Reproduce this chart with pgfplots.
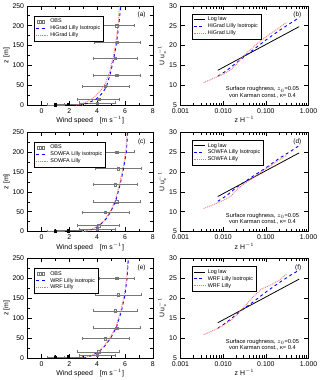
\documentclass[border=0pt]{standalone}
\usepackage{fontspec}
\setmainfont{Liberation Sans}
\usepackage{pgfplots}
\pgfplotsset{compat=1.18}
\usepgfplotslibrary{groupplots}
\definecolor{obsgray}{RGB}{120,120,120}
\definecolor{lillyred}{RGB}{250,110,110}
\tikzset{
  plabel/.style={font=\fontsize{6.5}{7}\selectfont, anchor=north east},
  rough/.style={font=\fontsize{5.8}{6.4}\selectfont, align=center},
}
\pgfplotsset{
  every axis/.append style={
    /pgf/number format/assume math mode=true,
    tick label style={font=\fontsize{7}{8}\selectfont},
    label style={font=\fontsize{7}{8}\selectfont},
    tick align=inside, tick style={black, thin},
  },
  speedax/.style={
    width=127pt, height=101pt, scale only axis,
    xmin=-1, xmax=8, ymin=0, ymax=250,
    xtick={0,2,4,6,8}, ytick={0,50,100,150,200,250},
    minor x tick num=1, minor y tick num=1,
    ylabel={z [m]}, xlabel={Wind speed\quad [m s$^{-1}$]},
    ylabel style={yshift=-4pt}, xlabel style={yshift=4pt},
    legend style={at={(rel axis cs:0.055,0.9)}, anchor=north west,
      font=\fontsize{5.5}{6}\selectfont, draw=black, row sep=-2.5pt,
      inner sep=1pt, cells={anchor=west}},
    legend image post style={scale=0.7},
  },
  profax/.style={
    width=130pt, height=101pt, scale only axis,
    xmin=0.001, xmax=1, ymin=5, ymax=30,
    xtick={0.001,0.01,0.1,1}, xticklabels={0.001,0.010,0.100,1.000},
    ytick={5,10,15,20,25,30},
    ylabel={U u$_*^{-1}$}, xlabel={z H$^{-1}$},
    ylabel style={yshift=-4pt}, xlabel style={yshift=4pt},
    legend style={at={(rel axis cs:0.09,0.92)}, anchor=north west,
      font=\fontsize{5.5}{6}\selectfont, draw=black, row sep=-2.5pt,
      inner sep=1pt, cells={anchor=west}},
    legend image post style={scale=0.7},
  },
  obs/.style={only marks, mark=square, mark size=1.2pt, black,
    mark options={draw=obsgray},
    error bars/x dir=both, error bars/x explicit,
    error bars/error bar style={obsgray, thin},
    error bars/error mark options={rotate=90, mark size=1.5pt, obsgray}},
  obsleg/.style={legend image code/.code={
    \node[draw=obsgray, inner sep=0.9pt] at (0.04cm,0) {};
    \node[draw=obsgray, inner sep=0.9pt] at (0.17cm,0) {};
    \node[draw=obsgray, inner sep=0.9pt] at (0.30cm,0) {};}},
  iso/.style={blue, dashed, line width=0.9pt},
  lilly/.style={lillyred, densely dotted, line width=0.9pt},
  loglaw/.style={black, line width=0.8pt},
}
\begin{document}
\begin{tikzpicture}
\begin{groupplot}[group style={group size=2 by 3,
    horizontal sep=28pt, vertical sep=27pt}]
% (a)
\nextgroupplot[speedax]
\addplot[obs, obsleg] coordinates {
  (5.4,200) +- (1.25,0) (5.45,158) +- (1.65,0) (5.3,118) +- (1.6,0)
  (5.4,75) +- (1.7,0) (4.6,48) +- (1.7,0) (4.1,15) +- (1.5,0)
  (4.0,6) +- (1.3,0)};
\addlegendentry{OBS}
\addplot[obs, forget plot, mark=square*, mark options={fill=black,draw=black}] coordinates {
  (1.0,1.5) +- (0.6,0) (1.9,2.5) +- (1.0,0)};
\addplot[iso] coordinates {(2.7,0) (2.9,2) (3.3,5) (3.9,15) (4.3,28) (4.65,45)
  (4.95,80) (5.2,118) (5.4,158) (5.55,200) (5.7,250)};
\addlegendentry{HiGrad Lilly Isotropic}
\addplot[lilly] coordinates {(2.5,0) (2.8,3) (3.2,8) (3.7,18) (4.2,35) (4.6,55)
  (4.9,85) (5.15,120) (5.35,160) (5.5,200) (5.6,250)};
\addlegendentry{HiGrad Lilly}
\node[plabel] at (rel axis cs:0.97,0.97) {(a)};
% (b)
\nextgroupplot[xmode=log, profax]
\addplot[loglaw] coordinates {(0.0075,13.8) (0.6,24.75)};
\addlegendentry{Log law}
\addplot[iso] coordinates {(0.0075,12.3) (0.012,13.7) (0.02,15.6) (0.03,17.1)
  (0.05,18.9) (0.1,21.4) (0.2,23.7) (0.4,25.8) (0.6,27.0)};
\addlegendentry{HiGrad Lilly Isotropic}
\addplot[lilly] coordinates {(0.0035,10.7) (0.006,11.8) (0.01,12.8) (0.015,13.9)
  (0.02,15.2) (0.03,17.4) (0.05,19.6) (0.08,21.4) (0.12,22.8) (0.2,24.4) (0.3,25.8)};
\addlegendentry{HiGrad Lilly}
\node[plabel] at (rel axis cs:0.97,0.97) {(b)};
\node[rough] at (rel axis cs:0.64,0.13) {Surface roughness, $z_0$=0.05\\von Karman const., κ= 0.4};
% (c)
\nextgroupplot[speedax]
\addplot[obs, obsleg] coordinates {
  (5.4,200) +- (1.25,0) (5.5,158) +- (1.65,0) (5.3,118) +- (1.6,0)
  (5.4,75) +- (1.7,0) (4.6,48) +- (1.7,0) (4.1,15) +- (1.5,0)
  (4.0,6) +- (1.3,0)};
\addlegendentry{OBS}
\addplot[obs, forget plot, mark=square*, mark options={fill=black,draw=black}] coordinates {
  (1.0,1.5) +- (0.6,0) (1.9,2.5) +- (1.0,0)};
\addplot[iso] coordinates {(3.1,0) (3.35,2) (3.7,6) (4.2,16) (4.6,30) (4.95,48)
  (5.35,78) (5.65,118) (5.9,158) (6.1,200) (6.2,250)};
\addlegendentry{SOWFA Lilly isotropic}
\addplot[lilly] coordinates {(3.0,0) (3.3,2) (3.65,6) (4.15,16) (4.55,30) (4.9,48)
  (5.3,78) (5.6,118) (5.85,158) (6.05,200) (6.15,250)};
\addlegendentry{SOWFA Lilly}
\node[plabel] at (rel axis cs:0.97,0.97) {(c)};
% (d)
\nextgroupplot[xmode=log, profax]
\addplot[loglaw] coordinates {(0.0075,13.8) (0.6,24.75)};
\addlegendentry{Log law}
\addplot[iso] coordinates {(0.0075,12.6) (0.012,14.0) (0.02,16.0) (0.03,17.3)
  (0.05,18.9) (0.1,21.0) (0.2,23.3) (0.4,25.3) (0.6,26.6)};
\addlegendentry{SOWFA Lilly Isotropic}
\addplot[lilly] coordinates {(0.0035,10.8) (0.006,11.8) (0.01,12.8) (0.015,13.8)
  (0.02,15.3) (0.03,16.9) (0.05,18.5) (0.1,20.8) (0.2,22.9) (0.3,24.1)};
\addlegendentry{SOWFA Lilly}
\node[plabel] at (rel axis cs:0.97,0.97) {(d)};
\node[rough] at (rel axis cs:0.64,0.13) {Surface roughness, $z_0$=0.05\\von Karman const., κ= 0.4};
% (e)
\nextgroupplot[speedax]
\addplot[obs, obsleg] coordinates {
  (5.4,200) +- (1.25,0) (5.5,158) +- (1.65,0) (5.3,118) +- (1.6,0)
  (5.4,75) +- (1.7,0) (4.6,48) +- (1.7,0) (4.1,15) +- (1.5,0)
  (4.0,6) +- (1.3,0)};
\addlegendentry{OBS}
\addplot[obs, forget plot, mark=square*, mark options={fill=black,draw=black}] coordinates {
  (1.0,1.5) +- (0.6,0) (1.9,2.5) +- (1.0,0)};
\addplot[iso] coordinates {(3.0,0) (3.3,2) (3.65,6) (4.15,16) (4.55,30) (4.95,48)
  (5.4,78) (5.75,118) (6.0,158) (6.15,200) (6.25,250)};
\addlegendentry{WRF Lilly isotropic}
\addplot[lilly] coordinates {(2.9,0) (3.25,2) (3.6,6) (4.1,16) (4.5,30) (4.9,48)
  (5.35,78) (5.7,118) (5.95,158) (6.12,200) (6.22,250)};
\addlegendentry{WRF Lilly}
\node[plabel] at (rel axis cs:0.97,0.97) {(e)};
% (f)
\nextgroupplot[xmode=log, profax]
\addplot[loglaw] coordinates {(0.0075,13.8) (0.6,24.75)};
\addlegendentry{Log law}
\addplot[iso] coordinates {(0.0075,12.4) (0.012,13.9) (0.02,15.8) (0.03,17.3)
  (0.05,19.0) (0.1,21.5) (0.2,23.8) (0.4,25.9) (0.6,27.0)};
\addlegendentry{WRF Lilly Isotropic}
\addplot[lilly] coordinates {(0.0035,10.8) (0.006,11.9) (0.01,13.1) (0.015,14.4)
  (0.02,15.6) (0.03,17.6) (0.05,20.3) (0.08,22.3) (0.12,23.1) (0.2,24.4) (0.3,26.0)};
\addlegendentry{WRF Lilly}
\node[plabel] at (rel axis cs:0.97,0.97) {(f)};
\node[rough] at (rel axis cs:0.64,0.13) {Surface roughness, $z_0$=0.05\\von Karman const., κ= 0.4};
\end{groupplot}
\end{tikzpicture}
\end{document}
